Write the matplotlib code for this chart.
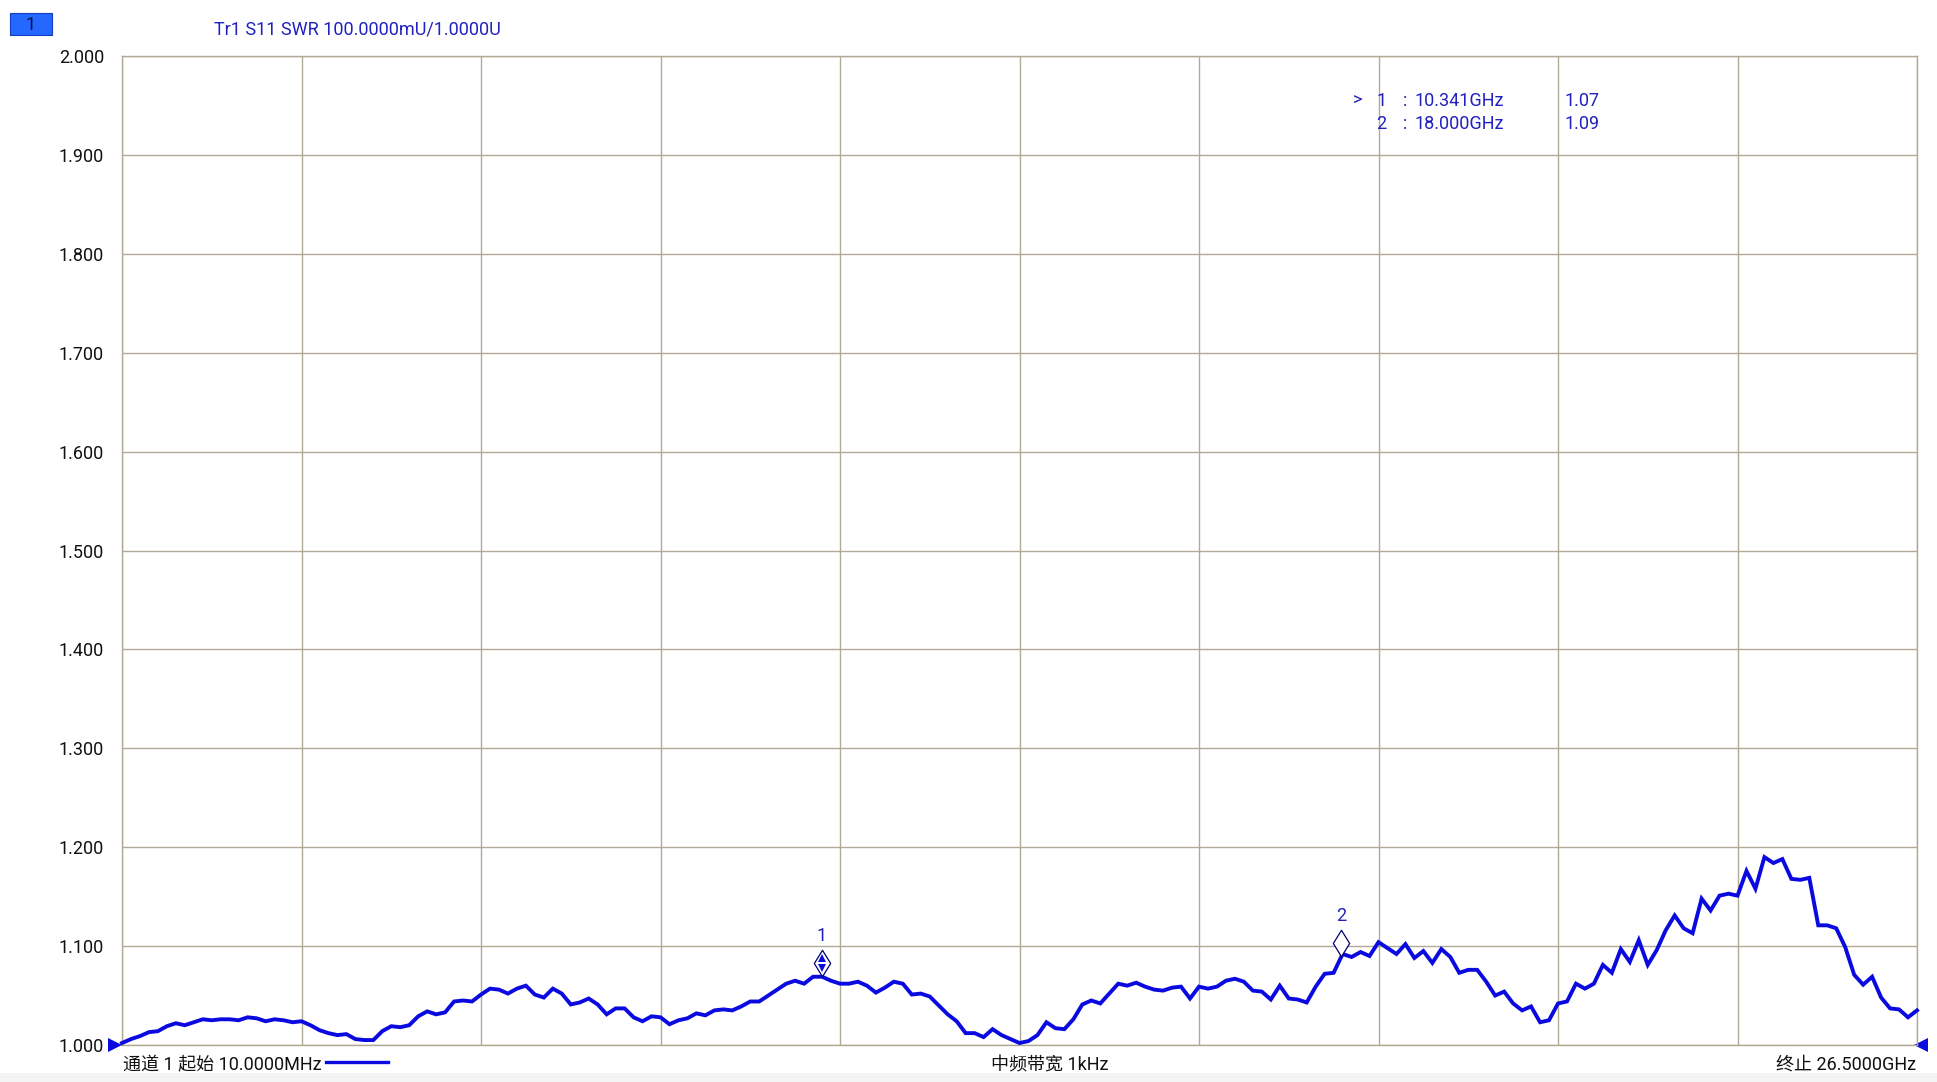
import numpy as np
import matplotlib
matplotlib.use("Agg")
import matplotlib.pyplot as plt
from matplotlib.transforms import offset_copy
from matplotlib.path import Path

plt.rcParams['font.family'] = ['Roboto', 'Noto Sans CJK SC', 'DejaVu Sans']

# data (201 sweep points, 10 MHz .. 26.5 GHz)
f_start, f_stop = 0.01, 26.5
n_points = 201
swr = [
    1.002, 1.006, 1.009, 1.013, 1.014, 1.019, 1.022, 1.020, 1.023, 1.026,
    1.025, 1.026, 1.026, 1.025, 1.028, 1.027, 1.024, 1.026, 1.025, 1.023,
    1.024, 1.020, 1.015, 1.012, 1.010, 1.011, 1.006, 1.005, 1.005, 1.014,
    1.019, 1.018, 1.020, 1.029, 1.034, 1.031, 1.033, 1.044, 1.045, 1.044,
    1.051, 1.057, 1.056, 1.052, 1.057, 1.060, 1.051, 1.048, 1.057, 1.052,
    1.041, 1.043, 1.047, 1.041, 1.031, 1.037, 1.037, 1.028, 1.024, 1.029,
    1.028, 1.021, 1.025, 1.027, 1.032, 1.030, 1.035, 1.036, 1.035, 1.039,
    1.044, 1.044, 1.050, 1.056, 1.062, 1.065, 1.062, 1.069, 1.069, 1.065,
    1.062, 1.062, 1.064, 1.060, 1.053, 1.058, 1.064, 1.062, 1.051, 1.052,
    1.049, 1.040, 1.031, 1.024, 1.012, 1.012, 1.008, 1.016, 1.010, 1.006,
    1.002, 1.004, 1.010, 1.023, 1.017, 1.016, 1.026, 1.041, 1.045, 1.042,
    1.052, 1.062, 1.060, 1.063, 1.059, 1.056, 1.055, 1.058, 1.059, 1.047,
    1.059, 1.057, 1.059, 1.065, 1.067, 1.064, 1.055, 1.054, 1.046, 1.060,
    1.047, 1.046, 1.043, 1.059, 1.072, 1.073, 1.092, 1.089, 1.094, 1.090,
    1.104, 1.098, 1.092, 1.102, 1.088, 1.095, 1.083, 1.097, 1.089, 1.073,
    1.076, 1.076, 1.064, 1.050, 1.054, 1.042, 1.035, 1.039, 1.023, 1.025,
    1.042, 1.044, 1.062, 1.057, 1.062, 1.081, 1.073, 1.097, 1.084, 1.106,
    1.081, 1.096, 1.116, 1.131, 1.118, 1.113, 1.148, 1.136, 1.151, 1.153,
    1.151, 1.176, 1.158, 1.190, 1.184, 1.188, 1.168, 1.167, 1.169, 1.121,
    1.121, 1.118, 1.099, 1.071, 1.061, 1.069, 1.048, 1.037, 1.036, 1.028,
    1.035,
]
freq = np.linspace(f_start, f_stop, n_points)

marker_ids = ['1', '2']
marker_freq = [10.341, 18.000]
marker_val = [1.07, 1.09]
marker_freq_txt = ['10.341GHz', '18.000GHz']
marker_val_txt = ['1.07', '1.09']

y_ticks = np.arange(1.0, 2.0001, 0.1)

W, H = 1937, 1082
trace_c = '#0a0ae0'
text_c = '#2121c0'
grid_c = '#b0aa95'
fs = 13


def px(x, y):
    return x / W, 1 - y / H


fig = plt.figure(figsize=(W / 100, H / 100), dpi=100)
fig.patch.set_facecolor('white')
ax = fig.add_axes([122 / W, 1 - 1045 / H, 1795 / W, 989 / H])

ax.plot(freq, swr, color=trace_c, lw=2.8, clip_on=False, zorder=5,
        solid_joinstyle='miter')

ax.set_xlim(f_start, f_stop)
ax.set_ylim(1.0, 2.0)
ax.set_xticks(np.linspace(f_start, f_stop, 11))
ax.set_xticklabels([])
ax.set_yticks(y_ticks)
ax.set_yticklabels(['%.3f' % v for v in y_ticks], fontsize=fs, color='#111111')
ax.tick_params(length=0, pad=13)
ax.grid(True, color=grid_c, lw=1.0)
for s in ax.spines.values():
    s.set_color(grid_c)
    s.set_linewidth(1.0)

# marker symbols
diamond = Path([(0, 1), (0.62, 0), (0, -1), (-0.62, 0), (0, 1)],
               [Path.MOVETO, Path.LINETO, Path.LINETO, Path.LINETO, Path.CLOSEPOLY])
sym_tr = offset_copy(ax.transData, fig=fig, x=0, y=13, units='dots')
for i, (mf, mv) in enumerate(zip(marker_freq, marker_val)):
    ax.plot([mf], [mv], marker=diamond, ms=19, mfc='white', mec='#000070',
            mew=0.9, transform=sym_tr, clip_on=False, zorder=6)
    if i == 0:
        up_tr = offset_copy(ax.transData, fig=fig, x=0, y=18, units='dots')
        dn_tr = offset_copy(ax.transData, fig=fig, x=0, y=8, units='dots')
        ax.plot([mf], [mv], marker='^', ms=6, color=trace_c, mew=0,
                transform=up_tr, zorder=7)
        ax.plot([mf], [mv], marker='v', ms=6, color=trace_c, mew=0,
                transform=dn_tr, zorder=7)
    lab_tr = offset_copy(ax.transData, fig=fig, x=0, y=40, units='dots')
    ax.text(mf, mv, marker_ids[i], transform=lab_tr, ha='center', va='center',
            fontsize=fs, color=text_c)

# reference position arrows
ax.plot([0], [1.0], marker='>', ms=10, color=trace_c, mew=0, clip_on=False,
        transform=offset_copy(ax.get_yaxis_transform(), fig=fig, x=-7, y=0, units='dots'))
ax.plot([1], [1.0], marker='<', ms=10, color=trace_c, mew=0, clip_on=False,
        transform=offset_copy(ax.get_yaxis_transform(), fig=fig, x=4, y=0, units='dots'))

# marker readout table
rows_y = [101, 124]
for i in range(len(marker_ids)):
    y = rows_y[i]
    if i == 0:
        fig.text(*px(1353, y), '>', ha='left', va='center', fontsize=fs, color=text_c)
    fig.text(*px(1376, y), marker_ids[i], ha='left', va='center', fontsize=fs, color=text_c)
    fig.text(*px(1403, y), ':', ha='left', va='center', fontsize=fs, color=text_c)
    fig.text(*px(1414, y), marker_freq_txt[i], ha='left', va='center', fontsize=fs, color=text_c)
    fig.text(*px(1564, y), marker_val_txt[i], ha='left', va='center', fontsize=fs, color=text_c)

# header
fig.patches.append(plt.Rectangle(px(10, 35), 42 / W, 22 / H, transform=fig.transFigure,
                                 facecolor='#2468ff', edgecolor='#1040c0', lw=0.8))
fig.text(*px(31, 25), '1', ha='center', va='center', fontsize=fs, color='#101040')
fig.text(*px(214, 29), 'Tr1 S11 SWR 100.0000mU/1.0000U', ha='left', va='center',
         fontsize=fs, color=text_c)

# footer
fig.text(*px(123, 1065), '通道 1 起始 10.0000MHz', ha='left', va='center',
         fontsize=fs, color='#111111')
fig.add_artist(plt.Line2D([326 / W, 388 / W], [1 - 1062 / H] * 2, color=trace_c, lw=2.4))
fig.text(*px(1050, 1065), '中频带宽 1kHz', ha='center', va='center',
         fontsize=fs, color='#111111')
fig.text(*px(1916, 1065), '终止 26.5000GHz', ha='right', va='center',
         fontsize=fs, color='#111111')
fig.patches.append(plt.Rectangle((0, 0), 1, 9 / H, transform=fig.transFigure,
                                 facecolor='#f3f3f3', edgecolor='none'))

fig.savefig('out.png', dpi=100)
